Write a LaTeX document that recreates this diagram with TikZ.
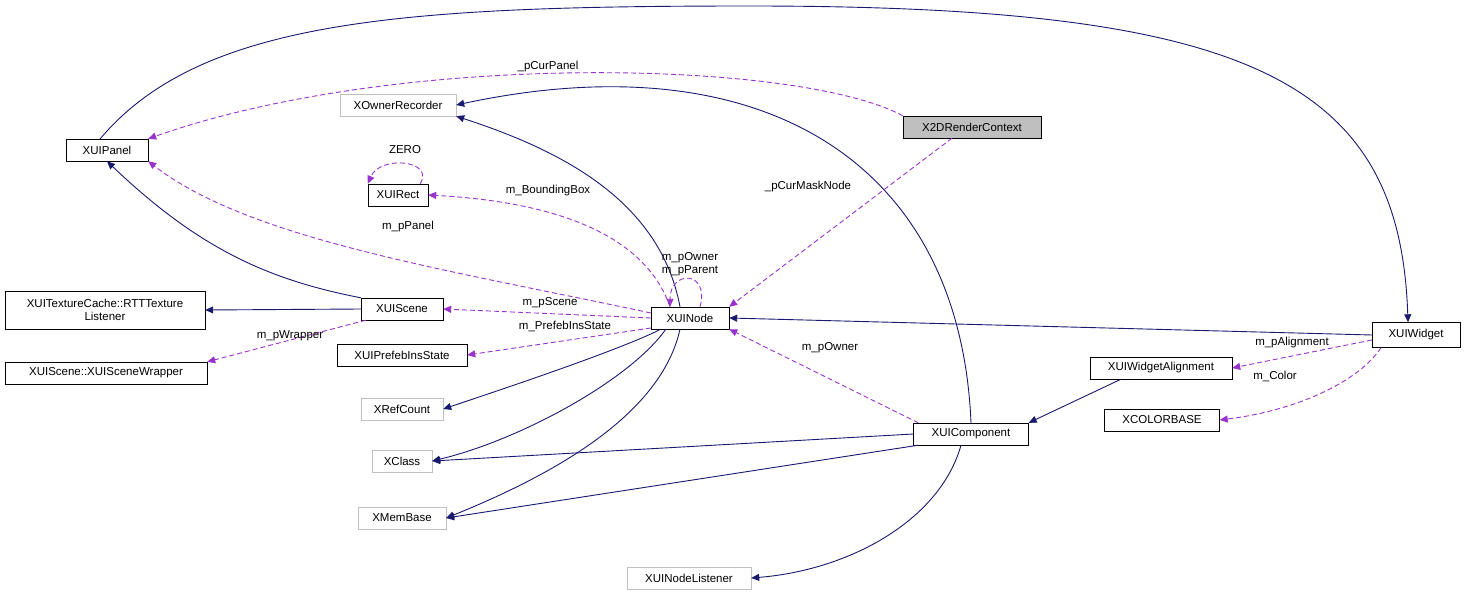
\documentclass[tikz,border=0pt]{standalone}
\usepackage{fontspec}
\setmainfont{Liberation Sans}
\usetikzlibrary{arrows.meta}
\definecolor{navy}{HTML}{191970}
\definecolor{purp}{HTML}{9A32CD}
\definecolor{gr}{HTML}{BFBFBF}
\begin{document}
\begin{tikzpicture}[x=1pt,y=-1pt,
  box/.style={draw=black,fill=white,inner sep=0pt,minimum height=22pt,font=\fontsize{11.5}{12.5}\selectfont,align=center},
  gbox/.style={box,draw=gr},
  inh/.style={draw=navy,line width=0.9pt,-{Triangle[length=8pt,width=7pt]}},
  use/.style={draw=purp,line width=0.9pt,dash pattern=on 5pt off 3pt,-{Triangle[length=8pt,width=7pt,fill=purp]}},
  lab/.style={font=\fontsize{11.5}{12.5}\selectfont,inner sep=1pt}]
\useasboundingbox (0,0) rectangle (1464,597);
\node[box,minimum width=82pt] (panel) at (107,150) {XUIPanel};
\node[gbox,minimum width=116pt] (owner) at (398,105) {XOwnerRecorder};
\node[box,fill=gr,minimum width=138pt] (r2d) at (972,127) {X2DRenderContext};
\node[box,minimum width=60pt] (rect) at (398,195) {XUIRect};
\node[box,minimum width=200pt,minimum height=38pt] (rtt) at (105,310) {XUITextureCache::RTTTexture\\Listener};
\node[box,minimum width=82pt] (scene) at (402,309) {XUIScene};
\node[box,minimum width=78pt] (node) at (690,318) {XUINode};
\node[box,minimum width=202pt] (wrap) at (106,373) {XUIScene::XUISceneWrapper};
\node[box,minimum width=130pt] (pref) at (402,355) {XUIPrefebInsState};
\node[gbox,minimum width=82pt] (ref) at (402,409) {XRefCount};
\node[gbox,minimum width=60pt] (cls) at (402,461) {XClass};
\node[gbox,minimum width=88pt] (mem) at (402,518) {XMemBase};
\node[gbox,minimum width=124pt] (lis) at (689,578) {XUINodeListener};
\node[box,minimum width=115pt] (comp) at (971,434) {XUIComponent};
\node[box,minimum width=142pt] (align) at (1161,368) {XUIWidgetAlignment};
\node[box,minimum width=115pt] (col) at (1162,420) {XCOLORBASE};
\node[box,minimum width=88pt,minimum height=25pt] (wid) at (1416,335) {XUIWidget};

\draw[inh] (100,139) .. controls (200,20) and (400,6) .. (750,6) .. controls (1250,6) and (1400,80) .. (wid.north-|1408,0);
\draw[use] (r2d.north west) .. controls (800,60) and (400,50) .. (panel.north east);
\node[lab] at (548,67) {\_pCurPanel};
\draw[inh] (node.north) ++(-10,0) .. controls (660,200) and (560,150) .. (owner.south east);
\draw[inh] (comp.north) .. controls (960,160) and (760,40) .. (owner.east);
\draw[use] (r2d.south) ++(-20,0) -- (node.north east);
\node[lab] at (808,187) {\_pCurMaskNode};
\draw[use] (rect.north east) ++(-8,0) .. controls (435,160) and (380,155) .. (rect.north west);
\node[lab] at (405,150) {ZERO};
\draw[use] (node.north) ++(-20,0) .. controls (640,220) and (520,200) .. (rect.east);
\node[lab] at (548,191) {m\_BoundingBox};
\draw[use] (node.west) ++(0,-5) .. controls (450,270) and (250,240) .. (panel.south east);
\node[lab] at (408,227) {m\_pPanel};
\draw[use] (node.north) ++(10,0) .. controls (710,270) and (670,270) .. ([xshift=-20pt]node.north);
\node[lab,align=center] at (690,264) {m\_pOwner\\m\_pParent};
\draw[inh] (scene.north west) .. controls (270,280) and (200,250) .. (panel.south);
\draw[inh] (scene.west) -- (rtt.east);
\draw[use] (scene.south west) ++(5,0) -- (wrap.north east);
\node[lab] at (290,336) {m\_pWrapper};
\draw[use] (node.west) -- (scene.east);
\node[lab] at (550,303) {m\_pScene};
\draw[use] (node.west) ++(0,10) -- (pref.east);
\node[lab] at (565,326) {m\_PrefebInsState};
\draw[inh] (node.south west) ++(10,0) .. controls (620,350) and (500,390) .. (ref.east);
\draw[inh] (node.south west) ++(15,0) .. controls (630,380) and (520,440) .. (cls.east);
\draw[inh] (node.south) ++(-10,0) .. controls (660,420) and (540,480) .. (mem.east);
\draw[inh] (wid.west) -- (node.east);
\draw[use] (comp.north west) ++(5,0) -- (node.south east);
\node[lab] at (830,348) {m\_pOwner};
\draw[inh] (align.south) ++(-40,0) -- (comp.north east);
\draw[inh] (comp.west) -- (cls.east);
\draw[inh] (comp.south west) ++(5,0) -- (mem.east);
\draw[inh] (comp.south) ++(-10,0) .. controls (940,520) and (850,570) .. (lis.east);
\draw[use] (wid.west) ++(0,5) -- (align.east);
\node[lab] at (1292,343) {m\_pAlignment};
\draw[use] (wid.south) ++(-35,0) .. controls (1360,380) and (1300,410) .. (col.east);
\node[lab] at (1275,376) {m\_Color};
\end{tikzpicture}
\end{document}
